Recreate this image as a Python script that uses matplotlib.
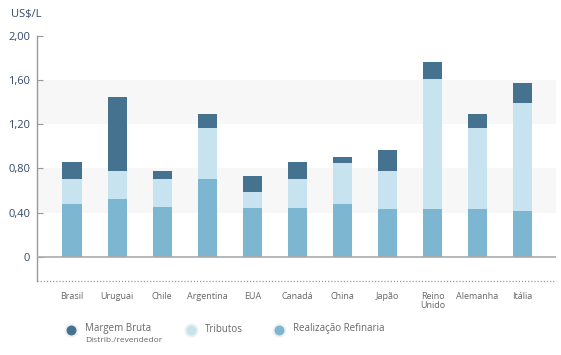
import matplotlib.pyplot as plt
import numpy as np

# data (US$/L)
paises = ["Brasil", "Uruguai", "Chile", "Argentina", "EUA", "Canadá", "China",
          "Japão", "Reino\nUnido", "Alemanha", "Itália"]
realizacao = [0.48, 0.52, 0.455, 0.70, 0.445, 0.445, 0.48, 0.43, 0.43, 0.43, 0.41]
tributos = [0.22, 0.26, 0.245, 0.47, 0.145, 0.255, 0.365, 0.345, 1.18, 0.74, 0.98]
margem = [0.155, 0.665, 0.08, 0.12, 0.145, 0.155, 0.055, 0.195, 0.155, 0.12, 0.18]

yticks = [0, 0.4, 0.8, 1.2, 1.6, 2.0]
ylabels = ["0", "0,40", "0,80", "1,20", "1,60", "2,00"]

c_margem = "#45728f"
c_trib = "#c7e3ef"
c_real = "#7db6d0"
txt_dark = "#34486a"
txt_gray = "#666666"

plt.rcParams["font.family"] = ["Open Sans", "DejaVu Sans"]

fig = plt.figure(figsize=(5.61, 3.55), dpi=100)
ax = fig.add_axes([37 / 561, 1 - 281 / 355, (556 - 37) / 561, (281 - 36) / 355])

x = np.arange(len(paises))
ax.set_xlim(-0.78, len(paises) - 0.5 + 0.24)
ax.set_ylim(-0.22, 2.0)

# alternating background bands
for lo, hi in [(0.4, 0.8), (1.2, 1.6)]:
    ax.axhspan(lo, hi, color="#f7f7f7", zorder=0, lw=0)

base = np.zeros(len(paises))
for vals, col in [(realizacao, c_real), (tributos, c_trib), (margem, c_margem)]:
    ax.bar(x, vals, bottom=base, width=0.43, color=col, zorder=2, lw=0)
    base = base + np.array(vals)

ax.axhline(0, color="#aaaaaa", lw=1.2, zorder=3)
ax.axhline(-0.22, color="#999999", lw=0.9, ls=(0, (1, 1.5)), zorder=3, clip_on=False)

for s in ["top", "right", "bottom"]:
    ax.spines[s].set_visible(False)
ax.spines["left"].set_color("#999999")
ax.spines["left"].set_linewidth(1.0)

ax.set_yticks(yticks)
ax.set_yticklabels(ylabels, color=txt_dark, fontsize=8)
ax.tick_params(axis="y", direction="in", length=4.5, width=0.8, color="#999999", pad=5)

ax.set_xticks(x)
ax.set_xticklabels(paises, color=txt_gray, fontsize=6.5, linespacing=0.95, va="top")
ax.tick_params(axis="x", length=0, pad=8)

fig.text(11 / 561, 1 - 14 / 355, "US$/L", color=txt_dark, fontsize=8, va="center")

# legend drawn in pixel coordinates
lg = fig.add_axes([0, 0, 1, 1], facecolor="none")
lg.set_xlim(0, 561)
lg.set_ylim(355, 0)
lg.axis("off")
items = [(71, c_margem, "Margem Bruta"), (191, c_trib, "Tributos"),
         (279, c_real, "Realização Refinaria")]
for cx, col, lab in items:
    lg.scatter([cx], [330], s=75, color=col, edgecolor="#f0f0f0", linewidth=1.5)
    lg.text(cx + 14, 329, lab, color=txt_gray, fontsize=7, va="center")
lg.text(85, 340, "Distrib./revendedor", color=txt_gray, fontsize=6, va="center")

fig.savefig("out.png", dpi=100)
